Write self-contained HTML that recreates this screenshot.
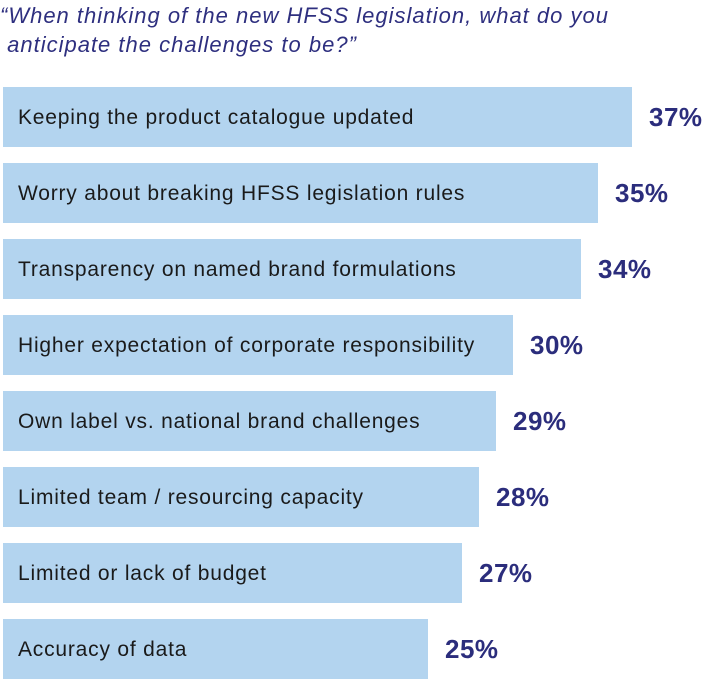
<!DOCTYPE html>
<html><head><meta charset="utf-8"><style>
html,body{margin:0;padding:0;background:#fff;}
body{width:707px;height:680px;overflow:hidden;position:relative;font-family:"Liberation Sans",sans-serif;}
#title{position:absolute;left:0;top:1px;font-style:italic;font-size:22px;letter-spacing:1px;line-height:29px;color:#2e2f7f;margin:0;font-weight:normal;}
svg{position:absolute;left:0;top:0;}
</style></head><body>
<h1 id="title">“When thinking of the new HFSS legislation, what do you<br>&nbsp;anticipate the challenges to be?”</h1>
<svg id="chart" width="707" height="680"></svg>
<script>
const categories=["Keeping the product catalogue updated","Worry about breaking HFSS legislation rules","Transparency on named brand formulations","Higher expectation of corporate responsibility","Own label vs. national brand challenges","Limited team / resourcing capacity","Limited or lack of budget","Accuracy of data"];
const values=[37,35,34,30,29,28,27,25];
const valueLabels=["37%","35%","34%","30%","29%","28%","27%","25%"];
const svg=document.getElementById('chart');
const NS='http://www.w3.org/2000/svg';
const x0=3, pxPer=17;
function xScale(v){return x0+v*pxPer;}
function yScale(i){return 87+i*76;}
const barH=60;
categories.forEach((c,i)=>{
  const y=yScale(i);
  const r=document.createElementNS(NS,'rect');
  r.setAttribute('x',x0);r.setAttribute('y',y);
  r.setAttribute('width',xScale(values[i])-x0);r.setAttribute('height',barH);
  r.setAttribute('fill','#b3d4ef');
  
  
  svg.appendChild(r);
  const t=document.createElementNS(NS,'text');
  t.setAttribute('x',18);t.setAttribute('y',y+37);
  t.setAttribute('font-size','21');t.setAttribute('letter-spacing','0.8');t.setAttribute('fill','#1a1a1a');
  t.textContent=c;
  
  
  svg.appendChild(t);
  const v=document.createElementNS(NS,'text');
  v.setAttribute('x',xScale(values[i])+17);v.setAttribute('y',y+39);
  v.setAttribute('font-size','26');v.setAttribute('letter-spacing','0.5');v.setAttribute('font-weight','bold');v.setAttribute('fill','#2b2d7c');
  v.textContent=valueLabels[i];
  
  
  svg.appendChild(v);
});
</script>
</body></html>
